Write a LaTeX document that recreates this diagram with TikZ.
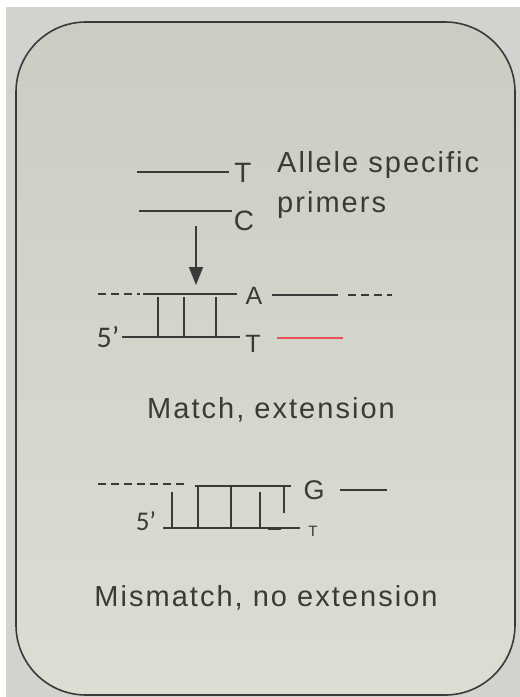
\documentclass[tikz,border=0pt]{standalone}
\usepackage{fontspec}
\setmainfont{Liberation Sans}
\usepackage{tikz}
\usetikzlibrary{arrows.meta}
\definecolor{cardtop}{HTML}{CACDC1}
\definecolor{cardbottom}{HTML}{DCDED3}
\definecolor{photo}{HTML}{D2D2CE}
\definecolor{ink}{HTML}{3A3A38}
\definecolor{extred}{HTML}{E8505A}
\newfontfamily\capfont[LetterSpace=7]{Liberation Sans}
\newfontfamily\primefont{Carlito}
\newcommand{\captext}[1]{{\fontsize{29}{34}\selectfont\capfont\color{ink}#1}}
\newcommand{\basetext}[2]{{\fontsize{#1}{#1}\selectfont\color{ink}#2}}
\newcommand{\primetext}[2]{{\fontsize{#1}{#1}\selectfont\primefont\color{ink}#2}}

\begin{document}
\begin{tikzpicture}[x=1pt,y=-1pt,
    strand/.style={draw=ink, line width=1.6pt},
    gap/.style={draw=ink, line width=1.6pt, dash pattern=on 8pt off 5pt},
    rung/.style={draw=ink, line width=1.5pt},
    letter/.style={inner sep=0pt, anchor=center}]
\fill[white] (0,0) rectangle (520,697);
\fill[photo] (6,7) rectangle (520,697);
\useasboundingbox (0,0) rectangle (520,697);
\shade[top color=cardtop, bottom color=cardbottom, rounded corners=70pt] (16,22) rectangle (515,695);
\draw[ink, line width=1.6pt, rounded corners=70pt] (16,22) rectangle (515,695);

% primers
\draw[strand] (137,172) -- (229,172);
\node[letter] (primerT) at (243,173) {\basetext{28}{T}};
\draw[strand] (139,211) -- (232,211);
\node[letter] (primerC) at (244,221) {\basetext{28}{C}};
\node[inner sep=0pt, anchor=base west] (allele) at (277,172) {\captext{Allele specific}};
\node[inner sep=0pt, anchor=base west] (primers) at (277,212) {\captext{primers}};

\coordinate (drop-top) at (196,226);
\coordinate (drop-tip) at (196,285);
\draw[strand, -{Triangle[width=14pt,length=18pt]}] (drop-top) -- (drop-tip);

% match
\draw[gap] (98,294) -- (140,294);
\draw[strand] (143,294) -- (237,294);
\node[letter] (matchA) at (254,296) {\basetext{25}{A}};
\draw[strand] (272,295) -- (338,295);
\draw[gap] (348,295) -- (392,295);
\node[letter] (matchfive) at (108,337) {\primetext{30}{5’}};
\draw[strand] (122,337) -- (240,337);
\node[letter] (matchT) at (253,344) {\basetext{25}{T}};
\draw[extred, line width=1.5pt] (277,338) -- (343,338);
\foreach \x in {158,184,216}
    \draw[rung] (\x,297) -- (\x,337);
\node[letter] (matchcap) at (271,410) {\captext{Match, extension}};

% mismatch
\draw[gap] (98,484) -- (187,484);
\draw[strand] (195,486) -- (291,486);
\node[letter] (mismatchG) at (314,490) {\basetext{27}{G}};
\draw[strand] (340,490) -- (387,490);
\node[letter] (mismatchfive) at (146,521) {\primetext{27}{5’}};
\draw[strand] (163,528) -- (300,528);
\draw[ink, line width=2.6pt] (268,528.5) -- (281,528.5);
\node[letter] (mismatchT) at (313,531) {\basetext{15}{T}};
\draw[rung] (172,492) -- (172,528);
\foreach \x in {198,231}
    \draw[rung] (\x,486) -- (\x,528);
\draw[rung] (260,492) -- (260,528);
\draw[rung] (284,486) -- (284,513);
\node[letter] (mismatchcap) at (266,598) {\captext{Mismatch, no extension}};
\end{tikzpicture}
\end{document}
